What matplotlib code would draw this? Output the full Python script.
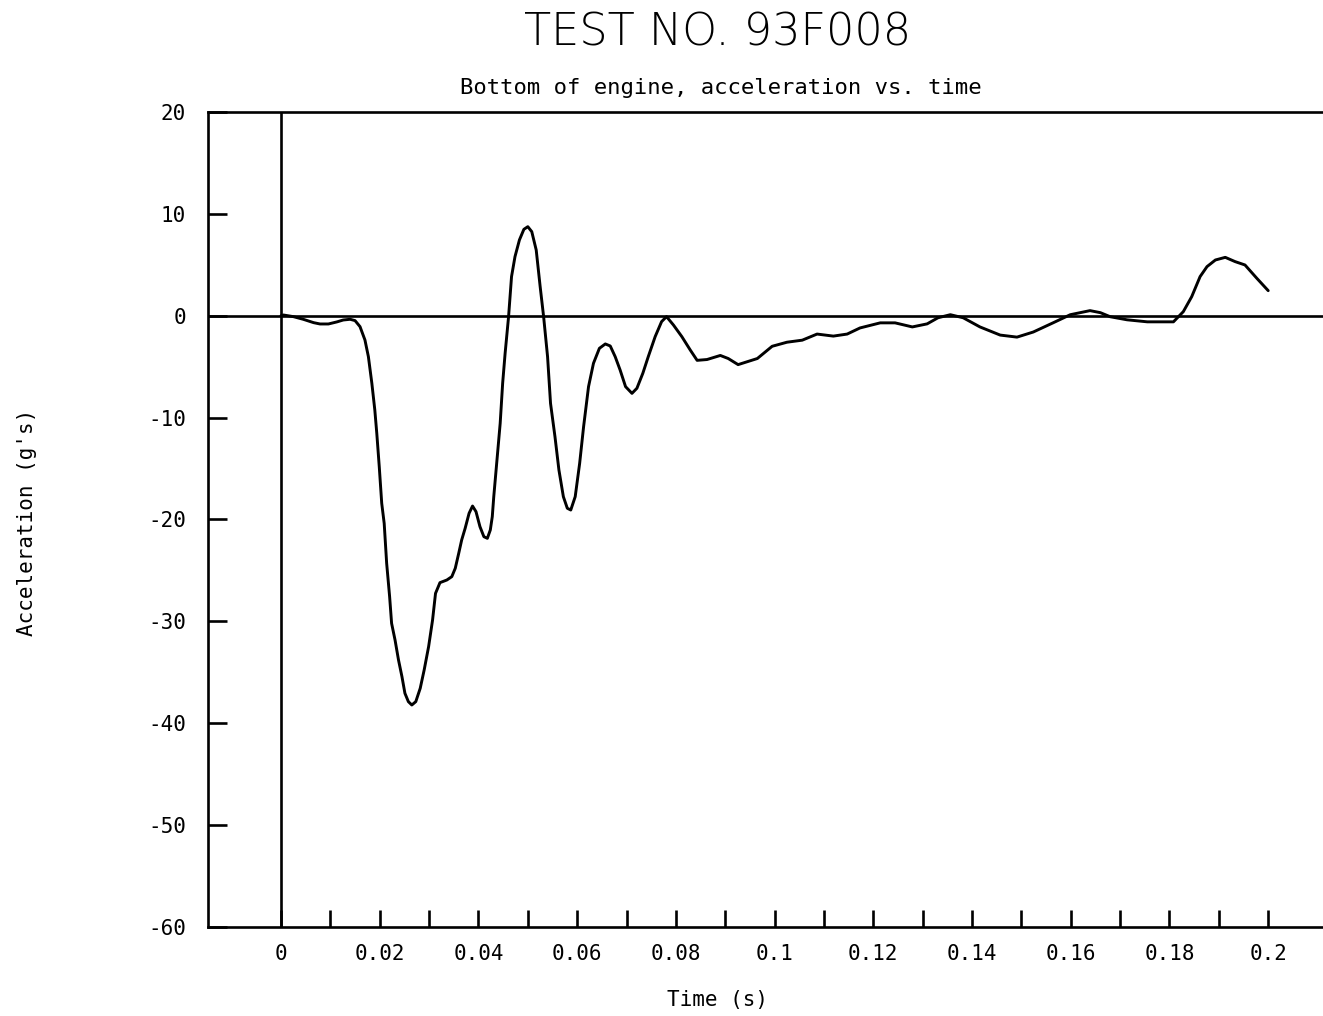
import matplotlib
matplotlib.use("Agg")
import matplotlib.pyplot as plt
from matplotlib.ticker import FixedLocator, FixedFormatter

# Data (time in s, acceleration in g's)
time_s = [0.0, 0.0005, 0.0025, 0.0045, 0.0066, 0.0079, 0.0096, 0.0113, 0.0126,
          0.0140, 0.0150, 0.0160, 0.0170, 0.0177, 0.0184, 0.0190, 0.0194, 0.0199,
          0.0204, 0.0209, 0.0214, 0.0220, 0.0224, 0.0231, 0.0238, 0.0245, 0.0251,
          0.0258, 0.0265, 0.0273, 0.0282, 0.0290, 0.0299, 0.0307, 0.0313, 0.0322,
          0.0336, 0.0346, 0.0353, 0.0360, 0.0366, 0.0373, 0.0381, 0.0388, 0.0395,
          0.0403, 0.0411, 0.0418, 0.0424, 0.0428, 0.0431, 0.0437, 0.0444, 0.0449,
          0.0454, 0.0461, 0.0467, 0.0474, 0.0483, 0.0492, 0.0500, 0.0508, 0.0517,
          0.0525, 0.0532, 0.0540, 0.0546, 0.0555, 0.0563, 0.0572, 0.0580, 0.0587,
          0.0596, 0.0605, 0.0613, 0.0623, 0.0633, 0.0645, 0.0657, 0.0667, 0.0677,
          0.0687, 0.0698, 0.0711, 0.0721, 0.0733, 0.0744, 0.0758, 0.0771, 0.0781,
          0.0795, 0.0812, 0.0829, 0.0843, 0.0863, 0.0890, 0.0906, 0.0926, 0.0965,
          0.0995, 0.1025, 0.1056, 0.1086, 0.1119, 0.1147, 0.1173, 0.1214, 0.1244,
          0.1279, 0.1309, 0.1331, 0.1356, 0.1382, 0.1416, 0.1457, 0.1491, 0.1524,
          0.1564, 0.1599, 0.1639, 0.1660, 0.1680, 0.1714, 0.1755, 0.1808, 0.1828,
          0.1845, 0.1862, 0.1876, 0.1893, 0.1913, 0.1933, 0.1953, 0.1977, 0.2000]
accel_g = [0.0, 0.07, -0.09, -0.35, -0.68, -0.81, -0.81, -0.61, -0.42,
           -0.35, -0.48, -1.07, -2.38, -4.02, -6.63, -9.25, -11.54, -14.81,
           -18.41, -20.38, -24.30, -27.57, -30.19, -31.83, -33.79, -35.43, -37.06,
           -37.88, -38.21, -37.88, -36.57, -34.77, -32.48, -29.87, -27.25, -26.20,
           -25.94, -25.61, -24.79, -23.32, -22.01, -20.87, -19.39, -18.68, -19.23,
           -20.70, -21.69, -21.85, -21.03, -19.72, -17.76, -14.49, -10.56, -6.63,
           -3.69, -0.09, 3.84, 5.80, 7.44, 8.48, 8.74, 8.25, 6.45,
           2.85, -0.09, -4.02, -8.60, -11.87, -15.14, -17.76, -18.90, -19.07,
           -17.76, -14.49, -10.89, -6.96, -4.67, -3.20, -2.77, -2.97, -4.02,
           -5.33, -6.96, -7.62, -7.12, -5.65, -4.02, -2.05, -0.58, -0.09,
           -0.91, -2.05, -3.36, -4.38, -4.3, -3.9, -4.2, -4.8, -4.2,
           -3.0, -2.6, -2.4, -1.8, -2.0, -1.8, -1.2, -0.7, -0.7,
           -1.1, -0.8, -0.2, 0.1, -0.2, -1.1, -1.9, -2.1, -1.6,
           -0.7, 0.1, 0.5, 0.3, -0.1, -0.4, -0.6, -0.6, 0.4,
           1.87, 3.84, 4.82, 5.47, 5.73, 5.31, 4.98, 3.67, 2.46]

x_major = [0, 0.02, 0.04, 0.06, 0.08, 0.1, 0.12, 0.14, 0.16, 0.18, 0.2]
x_labels = ["0", "0.02", "0.04", "0.06", "0.08", "0.1", "0.12", "0.14", "0.16", "0.18", "0.2"]
x_minor = [0.01, 0.03, 0.05, 0.07, 0.09, 0.11, 0.13, 0.15, 0.17, 0.19]
y_major = [-60, -50, -40, -30, -20, -10, 0, 10, 20]
y_labels = ["-60", "-50", "-40", "-30", "-20", "-10", "0", "10", "20"]

fig = plt.figure(figsize=(13.23, 10.16), dpi=100)
ax = fig.add_axes([0.1572, 0.0876, 0.8428, 0.8022])

lw = 1.9
ax.plot(time_s, accel_g, color="black", lw=2.1, solid_joinstyle="round",
        solid_capstyle="round")
ax.axhline(0, color="black", lw=lw)
ax.axvline(0, color="black", lw=lw)

ax.set_xlim(-0.0148, 0.2111)
ax.set_ylim(-60, 20)

for s in ["left", "top", "bottom"]:
    ax.spines[s].set_linewidth(lw)
ax.spines["right"].set_visible(False)

ax.xaxis.set_major_locator(FixedLocator(x_major))
ax.xaxis.set_major_formatter(FixedFormatter(x_labels))
ax.xaxis.set_minor_locator(FixedLocator(x_minor))
ax.yaxis.set_major_locator(FixedLocator(y_major))
ax.yaxis.set_major_formatter(FixedFormatter(y_labels))
ax.tick_params(axis="x", which="both", direction="in", length=12, width=lw, pad=12)
ax.tick_params(axis="y", which="both", direction="in", length=14, width=lw, pad=16)
for lab in ax.get_xticklabels() + ax.get_yticklabels():
    lab.set_fontfamily("DejaVu Sans Mono")
    lab.set_fontsize(15)

ax.set_xlabel("Time (s)", fontfamily="DejaVu Sans Mono", fontsize=15)
ax.xaxis.set_label_coords((718 - 208) / 1115, -(990 - 927) / 815)
ax.set_ylabel("Acceleration (g's)", fontfamily="DejaVu Sans Mono", fontsize=15)
ax.yaxis.set_label_coords(-(208 - 37) / 1115, 1 - (522 - 112) / 815)

fig.text(718 / 1323, 1 - 33 / 1016, "TEST NO. 93F008", ha="center", va="center",
         fontsize=32, fontfamily="DejaVu Sans", fontweight="light")
fig.text(721 / 1323, 1 - 88 / 1016, "Bottom of engine, acceleration vs. time",
         ha="center", va="center", fontsize=16, fontfamily="DejaVu Sans Mono")

fig.savefig("out.png", dpi=100, facecolor="white")
